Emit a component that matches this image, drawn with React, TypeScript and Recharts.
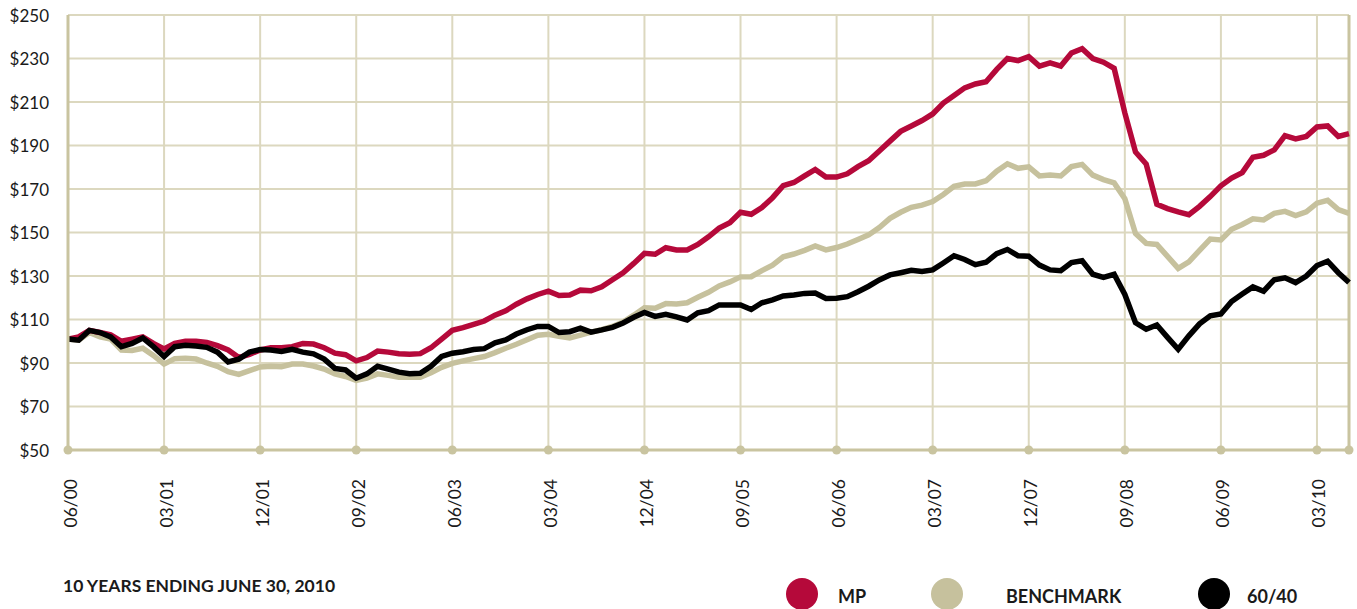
import { LineChart, Line, XAxis, YAxis, CartesianGrid, ReferenceLine } from 'recharts';

// monthly index 0 = 06/00 ... 120 = 06/10
const MONTHS: string[] = Array.from({ length: 121 }, (_, i) => {
  const m = ((5 + i) % 12) + 1;
  const y = Math.floor((5 + i) / 12);
  return `${String(m).padStart(2, '0')}/${String(y).padStart(2, '0')}`;
});

const X_TICKS = [0, 9, 18, 27, 36, 45, 54, 63, 72, 81, 90, 99, 108, 117, 120];
const Y_TICKS = [50, 70, 90, 110, 130, 150, 170, 190, 210, 230, 250];

const MP = [
  101, 102, 105, 104, 103, 100, 101, 102, 99, 96.5,
  99, 100, 100, 99.5, 98, 96, 92.5, 94, 96, 97,
  97, 97.5, 99, 98.7, 97, 94.5, 93.8, 91, 92.5, 95.5,
  95, 94.3, 94, 94.3, 97, 101, 105, 106.3, 107.8, 109.3,
  112, 114, 117, 119.5, 121.5, 123, 121, 121.3, 123.5, 123.2,
  125, 128.3, 131.5, 135.8, 140.4, 140, 143, 142, 142, 144.5,
  148, 152, 154.5, 159.3, 158.4, 161.5, 166, 171.5, 173, 176,
  179, 175.5, 175.5, 177, 180.3, 183, 187.5, 192, 196.5, 199,
  201.5, 204.5, 209.5, 213, 216.5, 218.3, 219.3, 225, 230, 229,
  230.8, 226.5, 228, 226.5, 232.5, 234.5, 230, 228.3, 225.5, 205,
  187, 181.5, 163, 161, 159.5, 158.2, 162, 166.5, 171.5, 175,
  177.5, 184.6, 185.5, 188, 194.5, 193, 194.2, 198.5, 199, 194.2,
  195.5,
];

const BENCHMARK = [
  101, 100.5, 104, 102, 101, 96, 95.8, 96.8, 93.5, 89.5,
  92, 92.2, 91.8, 90, 88.5, 86, 84.8, 86.5, 88.2, 88.5,
  88.3, 89.5, 89.5, 88.6, 87.2, 85, 83.8, 82, 83, 85,
  84.3, 83.5, 83.4, 83.4, 85.5, 88, 89.8, 91, 92, 93,
  94.8, 96.8, 98.6, 100.7, 102.8, 103.2, 102.3, 101.5, 102.8, 104.2,
  105.3, 106.8, 108.8, 112, 115.4, 115.2, 117.3, 117.1, 117.7, 120.2,
  122.5, 125.4, 127.3, 129.6, 129.7, 132.5, 135, 138.8, 140.1, 141.8,
  143.8, 142, 143.1, 144.7, 146.8, 148.9, 152.3, 156.5, 159.3, 161.6,
  162.6, 164.2, 167.5, 171.2, 172.3, 172.3, 173.8, 178.2, 181.6, 179.5,
  180.2, 176, 176.4, 176, 180.3, 181.3, 176.4, 174.3, 172.8, 165.5,
  149.5, 145, 144.5, 139, 133.5, 136.5, 141.8, 147, 146.6, 151.5,
  153.7, 156.3, 155.8, 158.8, 159.7, 157.8, 159.5, 163.5, 164.8, 160.5,
  158.8,
];

const SIXTY_FORTY = [
  101, 100.5, 105, 104, 102, 97.5, 99, 101.5, 97.5, 93,
  97.5, 98.2, 97.8, 97.2, 95, 90.5, 91.8, 95, 96.2, 96,
  95.3, 96.3, 95, 94.2, 91.8, 87.5, 86.8, 83, 85, 88.5,
  87.2, 85.8, 85.1, 85.3, 88.5, 93, 94.5, 95.2, 96.2, 96.6,
  99.3, 100.6, 103.3, 105.3, 106.8, 106.8, 104, 104.4, 106, 104.2,
  105.2, 106.4, 108.4, 111, 113.2, 111.4, 112.4, 111.2, 109.8, 113.1,
  114.1, 116.7, 116.7, 116.7, 114.6, 117.7, 119, 120.8, 121.3, 122,
  122.2, 119.7, 119.8, 120.5, 122.8, 125.3, 128.2, 130.5, 131.5, 132.6,
  132.1, 132.8, 136, 139.3, 137.6, 135.2, 136.3, 140.3, 142.2, 139.3,
  139.1, 135, 132.8, 132.4, 136.2, 137, 130.8, 129.4, 130.8, 121.5,
  108.5, 105.5, 107.5, 101.8, 96.3, 102.5, 108, 111.7, 112.5, 118.3,
  121.7, 125, 123, 128.3, 129.2, 127, 130, 134.8, 136.8, 131.5,
  127,
];

const data = MONTHS.map((month, i) => ({
  i,
  month,
  mp: MP[i],
  bench: BENCHMARK[i],
  sixty: SIXTY_FORTY[i],
}));

const RED = '#b5093a';
const TAN = '#c6c19d';
const AXIS = '#c9c4a0';
const GRID = '#dcd8bf';
const FONT = 'Lato, "Open Sans", sans-serif';

const XTick = ({ x, y, payload }: any) => (
  <g>
    <circle cx={x} cy={y} r={4.5} fill={AXIS} />
    {payload.value !== 120 && (
      <text
        x={x + 2}
        y={y + 29}
        transform={`rotate(-90 ${x + 2} ${y + 29})`}
        textAnchor="end"
        dominantBaseline="central"
        fontSize={17.5}
        fill="#1a1a1a"
        fontFamily={FONT}
      >
        {MONTHS[payload.value]}
      </text>
    )}
  </g>
);

const YTick = ({ y, payload }: any) => (
  <text x={49} y={y} textAnchor="end" dominantBaseline="central" fontSize={17} fill="#1a1a1a" fontFamily={FONT}>
    ${payload.value}
  </text>
);

const legend = [
  { name: 'MP', color: RED, cx: 802, tx: 838 },
  { name: 'BENCHMARK', color: TAN, cx: 947, tx: 1006 },
  { name: '60/40', color: '#000', cx: 1214, tx: 1247 },
];

export default function App() {
  return (
    <div style={{ position: 'absolute', left: 0, top: 0, width: 1357, height: 609, background: '#fff', overflow: 'hidden' }}>
      <LineChart width={1357} height={609} data={data} margin={{ top: 15, right: 8, left: 8, bottom: 59 }}>
        <CartesianGrid stroke={GRID} strokeWidth={2} />
        <XAxis
          dataKey="i"
          type="number"
          domain={[0, 120]}
          ticks={X_TICKS}
          interval={0}
          height={100}
          tickSize={0}
          tickMargin={0}
          tickLine={false}
          axisLine={{ stroke: AXIS, strokeWidth: 3 }}
          tick={<XTick />}
        />
        <YAxis
          domain={[50, 250]}
          ticks={Y_TICKS}
          interval={0}
          width={60}
          tickLine={false}
          axisLine={{ stroke: AXIS, strokeWidth: 3 }}
          tick={<YTick />}
        />
        <ReferenceLine x={120} stroke={AXIS} strokeWidth={3} />
        <Line dataKey="bench" stroke={TAN} strokeWidth={5.5} dot={false} isAnimationActive={false} />
        <Line dataKey="mp" stroke={RED} strokeWidth={5.5} dot={false} isAnimationActive={false} />
        <Line dataKey="sixty" stroke="#000" strokeWidth={5.5} dot={false} isAnimationActive={false} />
      </LineChart>
      <div style={{ position: 'absolute', left: 63, top: 575, fontFamily: FONT, fontWeight: 700, fontSize: 17.5, color: '#1a1a1a', whiteSpace: 'nowrap' }}>
        10 YEARS ENDING JUNE 30, 2010
      </div>
      {legend.map(l => (
        <div key={l.name}>
          <div style={{ position: 'absolute', left: l.cx - 16, top: 578, width: 32, height: 32, borderRadius: '50%', background: l.color }} />
          <div style={{ position: 'absolute', left: l.tx, top: 585, fontFamily: FONT, fontWeight: 700, fontSize: 18, color: '#1a1a1a', whiteSpace: 'nowrap' }}>
            {l.name}
          </div>
        </div>
      ))}
    </div>
  );
}
